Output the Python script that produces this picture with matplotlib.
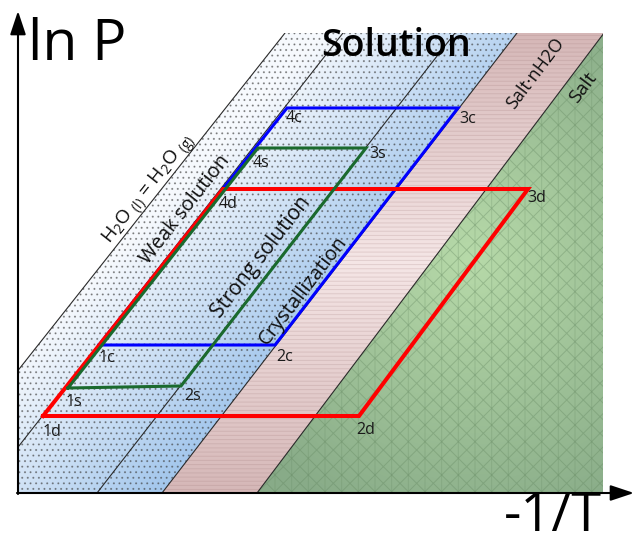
import numpy as np
import matplotlib
matplotlib.use("Agg")
import matplotlib.pyplot as plt
from matplotlib.patches import Polygon, Rectangle
from matplotlib.colors import to_rgb

plt.rcParams["font.family"] = ["Open Sans", "DejaVu Sans"]
plt.rcParams["mathtext.fontset"] = "custom"
plt.rcParams["mathtext.rm"] = "Open Sans"
plt.rcParams["hatch.linewidth"] = 0.7

# ---- diagram data (x = -1/T, y = ln P, arbitrary units) ----
X_MAX, Y_MAX = 585, 460          # shaded field
# phase boundaries: x where each line meets y=0 and y=Y_MAX
bound_x0 = [-97, -36, 79, 144, 239]
bound_x1 = [267, 325, 437, 499, 586]

# three cycles, corners 1..4
cyc_c_x = [81, 257, 440, 269]
cyc_c_y = [148, 148, 385, 385]
cyc_s_x = [50, 163, 348, 240]
cyc_s_y = [105, 107, 345, 345]
cyc_d_x = [25, 341, 510, 205]
cyc_d_y = [77, 77, 304, 304]

corner_names = ["1", "2", "3", "4"]
# label offsets from the corner (px right, px down)
off_c = [(8, 13), (10, 12), (10, 11), (7, 10)]
off_s = [(6, 14), (12, 10), (12, 6), (3, 15)]
off_d = [(9, 16), (7, 14), (9, 9), (5, 15)]

fig = plt.figure(figsize=(6.35, 5.45), dpi=100)
ax = fig.add_axes([0, 0, 1, 1])
ax.set_xlim(-18, 617)
ax.set_ylim(-52, 493)
ax.axis("off")


def bx(k, y):
    return bound_x0[k] + (bound_x1[k] - bound_x0[k]) * y / Y_MAX


# --- background colours ---
yy, xx = np.mgrid[0:Y_MAX, 0:X_MAX] + 0.5
b = [bx(k, yy) for k in range(5)]
img = np.ones((Y_MAX, X_MAX, 3))


def lerp(c0, c1, t):
    c0, c1 = np.array(to_rgb(c0)), np.array(to_rgb(c1))
    return c0 + (c1 - c0) * t[..., None]


m_blue = (xx >= b[0]) & (xx < b[3])
tb = (xx - b[0]) / (b[3] - b[0])
tb = np.clip(0.9 * tb - 0.25 * yy / Y_MAX + 0.1, 0, 1)
img[m_blue] = lerp("#f6f9fd", "#a2c6ec", tb)[m_blue]

m_pink = (xx >= b[3]) & (xx < b[4])
tp = np.clip(1 - np.abs(yy - 230) / 230, 0, 1)
img[m_pink] = lerp("#d5b7b7", "#f5e6e6", tp)[m_pink]

m_green = xx >= b[4]
dg = np.hypot(xx - 452, yy - 233) / 280
tg = np.clip(1 - dg, 0, 1)
img[m_green] = lerp("#88ab88", "#b7daa9", tg)[m_green]

ax.imshow(img, extent=(0, X_MAX, 0, Y_MAX), origin="lower",
          interpolation="bilinear", zorder=0, aspect="auto")

field = Rectangle((0, 0), X_MAX, Y_MAX, transform=ax.transData)


def band(k0, k1, **kw):
    if k1 is None:
        right = [(X_MAX + 60, Y_MAX), (X_MAX + 60, 0)]
    else:
        right = [(bound_x1[k1], Y_MAX), (bound_x0[k1], 0)]
    verts = [(bound_x0[k0], 0), (bound_x1[k0], Y_MAX)] + right
    p = Polygon(verts, closed=True, fill=False, lw=0, zorder=1, **kw)
    ax.add_patch(p)
    p.set_clip_path(field)


band(0, 3, hatch="...", edgecolor=(0.25, 0.25, 0.25, 0.5))
band(3, 4, hatch="----", edgecolor=(0.62, 0.47, 0.47, 0.22))
band(4, None, hatch="xx", edgecolor=(0.38, 0.52, 0.37, 0.35))
band(4, None, hatch="|", edgecolor=(0.38, 0.52, 0.37, 0.25))

for k in range(5):
    ln, = ax.plot([bound_x0[k], bound_x1[k]], [0, Y_MAX], color="#2a2a2a",
                  lw=0.8, zorder=2)
    ln.set_clip_path(field)

# --- cycles ---
cycles = [
    (cyc_c_x, cyc_c_y, "#0000ff", 2.2, "c", off_c),
    (cyc_d_x, cyc_d_y, "#ff0000", 2.9, "d", off_d),
    (cyc_s_x, cyc_s_y, "#1a6a2e", 2.2, "s", off_s),
]
for cx, cy, col, lw, tag, offs in cycles:
    ax.plot(cx + cx[:1], cy + cy[:1], color=col, lw=lw, zorder=3,
            solid_joinstyle="miter")
    for i in range(4):
        ax.annotate(corner_names[i] + tag, (cx[i], cy[i]),
                    xytext=(offs[i][0] * 0.72, -offs[i][1] * 0.72),
                    textcoords="offset points", ha="center", va="center",
                    fontsize=11.5, color="#1a1a1a", zorder=5)

# --- axes arrows ---
arr = dict(arrowstyle="-|>,head_length=0.9,head_width=0.3", lw=1.5,
           color="k", mutation_scale=16, shrinkA=0, shrinkB=0)
ax.annotate("", xy=(0, 482), xytext=(0, -1), arrowprops=arr,
            annotation_clip=False)
ax.annotate("", xy=(616, 0), xytext=(-1, 0), arrowprops=arr,
            annotation_clip=False)

ax.text(10, 433, "ln P", fontsize=41, ha="left", va="baseline")
ax.text(584, -38, "-1/T", fontsize=39, ha="right", va="baseline")
ax.text(378, 437, "Solution", fontsize=27, fontweight="semibold",
        ha="center", va="baseline", zorder=5)


def ang(k):
    return np.degrees(np.arctan2(Y_MAX, bound_x1[k] - bound_x0[k]))


rot_kw = dict(ha="center", va="center", rotation_mode="anchor", zorder=5,
              color="#111111")
ax.text(132, 303,
        r"H$\mathregular{_2}$O$\mathregular{_{\ (l)}}$ = H$\mathregular{_2}$O$\mathregular{_{\ (g)}}$",
        fontsize=14, rotation=ang(0), **rot_kw)
ax.text(167, 283, "Weak solution", fontsize=14.5, rotation=ang(1), **rot_kw)
ax.text(243, 236, "Strong solution", fontsize=15, rotation=ang(2), **rot_kw)
ax.text(285, 202, "Crystallization", fontsize=14.5, rotation=ang(3), **rot_kw)
ax.text(517, 420, "Salt·nH2O", fontsize=13, rotation=ang(4), **rot_kw)
ax.text(565, 405, "Salt", fontsize=14, rotation=ang(4), **rot_kw)

fig.savefig("out.png", dpi=100)
